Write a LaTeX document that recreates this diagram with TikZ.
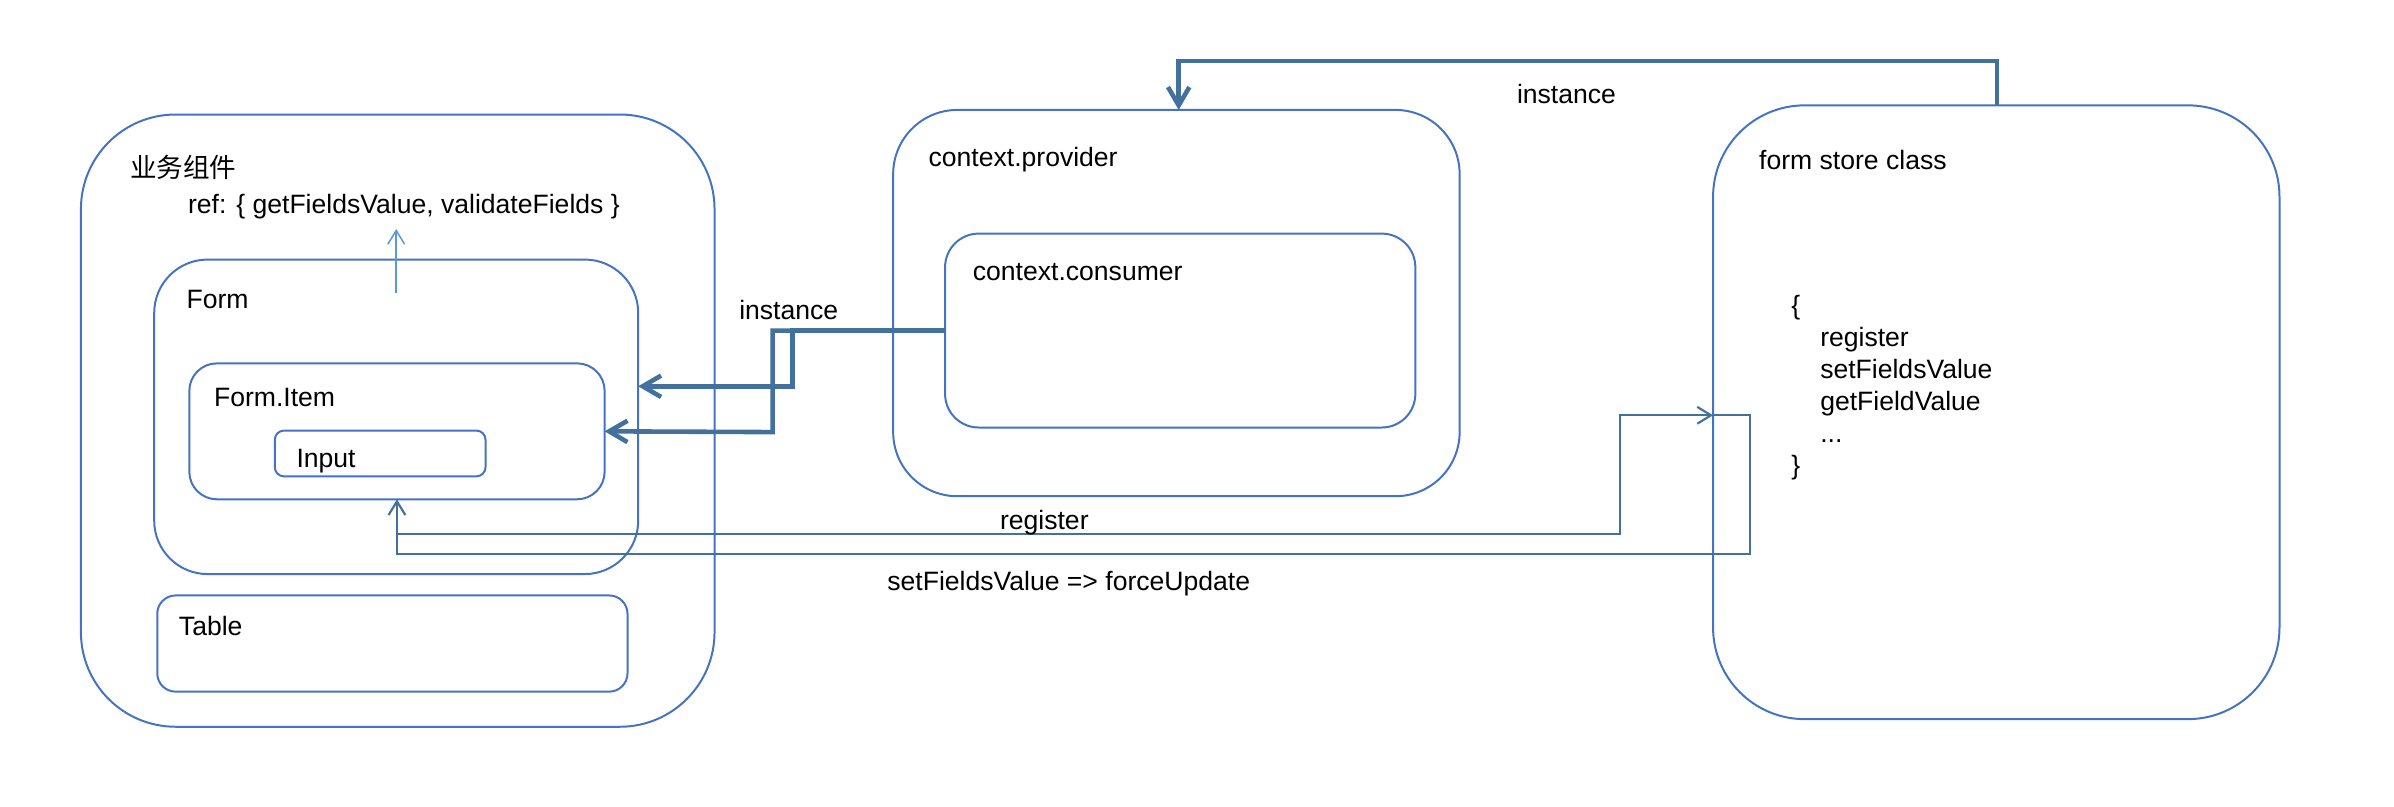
\documentclass[tikz,border=0pt]{standalone}
\usepackage{fontspec}
\setmainfont{Liberation Sans}
\newfontfamily\cjkfont{Noto Sans CJK SC}
\usetikzlibrary{arrows.meta}

\definecolor{boxblue}{HTML}{4472C4}
\definecolor{linkblue}{HTML}{41719C}
\definecolor{refblue}{HTML}{5B9BD5}

\begin{document}
\begin{tikzpicture}[x=1pt, y=-1pt,
    box/.style={draw=boxblue, line width=1.3pt, anchor=north west,
      inner sep=0pt, outer sep=0pt},
    lbl/.style={anchor=base west, inner sep=0pt,
      font=\fontsize{17.4}{21}\selectfont},
    bigarr/.style={draw=linkblue, line width=3pt,
      -{Straight Barb[length=12pt, width=14pt]}},
    thinarr/.style={draw=linkblue, line width=1.4pt,
      -{Straight Barb[length=9pt, width=11pt]}},
    refarr/.style={draw=refblue, line width=1pt,
      -{Straight Barb[length=9pt, width=11pt]}}
  ]
  \useasboundingbox (0,0) rectangle (1568,528);

  % left side: business component
  \node[box, rounded corners=62pt, minimum width=415pt, minimum height=401pt] (biz) at (53,75) {};
  \node[box, rounded corners=35pt, minimum width=317pt, minimum height=206pt] (form) at (101,170) {};
  \node[box, rounded corners=18pt, minimum width=272pt, minimum height=89pt] (item) at (124,238) {};
  \node[box, rounded corners=6pt, minimum width=138pt, minimum height=30pt] (input) at (180,282) {};
  \node[box, rounded corners=12pt, minimum width=308pt, minimum height=63pt] (table) at (103,390) {};

  \node[lbl, font=\fontsize{17.4}{21}\cjkfont] (biz-t) at (85,116) {业务组件};
  \node[lbl] (ref-t) at (123,140) {ref: \{ getFieldsValue, validateFields \}};
  \node[lbl] (form-t) at (122,202) {Form};
  \node[lbl] (item-t) at (140,266) {Form.Item};
  \node[lbl] (input-t) at (194,306) {Input};
  \node[lbl] (table-t) at (117,416) {Table};

  % context
  \node[box, rounded corners=42pt, minimum width=371pt, minimum height=253pt] (provider) at (585,72) {};
  \node[box, rounded corners=22pt, minimum width=308pt, minimum height=127pt] (consumer) at (619,153) {};
  \node[lbl] (provider-t) at (608,109) {context.provider};
  \node[lbl] (consumer-t) at (637,184) {context.consumer};

  % store
  \node[box, rounded corners=60pt, minimum width=371pt, minimum height=402pt] (store) at (1122,69) {};
  \node[lbl] (store-t) at (1152,111) {form store class};
  \node[lbl, anchor=north west, align=left] (api) at (1173,193)
    {\{\\\hspace*{19pt}register\\\hspace*{19pt}setFieldsValue\\\hspace*{19pt}getFieldValue\\\hspace*{19pt}...\\\}};

  % connectors
  \coordinate (topR) at (1308,40);
  \coordinate (topL) at (772,40);
  \draw[bigarr] (topR |- store.north) -- (topR) -- (topL) -- (topL |- provider.north);
  \node[lbl, anchor=base] (inst1) at (1026,68) {instance};

  \coordinate (jA) at (519,253);
  \coordinate (jB) at (506,283);
  \draw[bigarr] (consumer.west) -| (jA) -- (jA -| form.east);
  \draw[bigarr] (consumer.west) -| (jB) -- (item.east);
  \node[lbl] (inst2) at (484,209) {instance};

  \draw[refarr] ([yshift=-22pt]form.north) -- ([yshift=20pt]form.north);

  \coordinate (regL) at (260,350);
  \coordinate (regR) at (1061,272);
  \coordinate (setR) at (1146,363);
  \draw[thinarr] (regL) -| (regR) -- (regR -| store.west);
  \draw[thinarr] (regR -| store.west) -| (setR) -| (item.south);
  \node[lbl, anchor=base] (reg-t) at (684,347) {register};
  \node[lbl, anchor=base] (set-t) at (700,387) {setFieldsValue => forceUpdate};
\end{tikzpicture}
\end{document}
